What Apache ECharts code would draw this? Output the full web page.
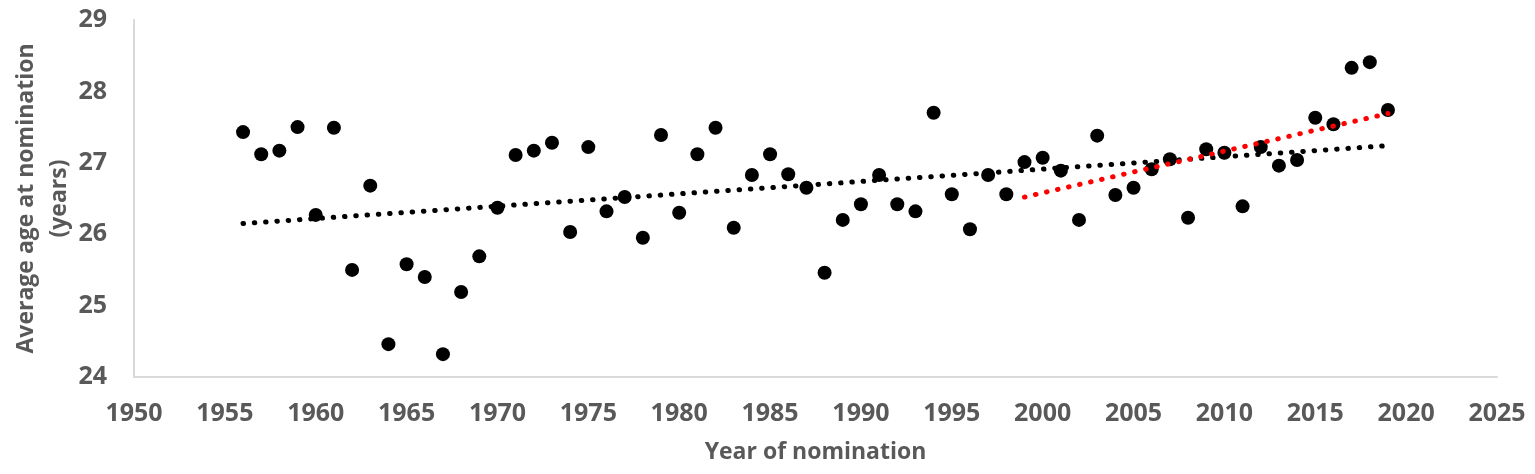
<!DOCTYPE html>
<html>
<head>
<meta charset="utf-8">
<script src="https://cdn.jsdelivr.net/npm/echarts@6/dist/echarts.min.js"></script>
<style>
html,body{margin:0;padding:0;background:#fff;}
#chart{width:1535px;height:474px;}
</style>
</head>
<body>
<div id="chart"></div>
<script>
const years = [1956,1957,1958,1959,1960,1961,1962,1963,1964,1965,1966,1967,1968,1969,1970,1971,1972,1973,1974,1975,1976,1977,1978,1979,1980,1981,1982,1983,1984,1985,1986,1987,1988,1989,1990,1991,1992,1993,1994,1995,1996,1997,1998,1999,2000,2001,2002,2003,2004,2005,2006,2007,2008,2009,2010,2011,2012,2013,2014,2015,2016,2017,2018,2019];
const ages = [27.43,27.12,27.17,27.50,26.27,27.49,25.50,26.68,24.46,25.58,25.40,24.32,25.19,25.69,26.37,27.11,27.17,27.28,26.03,27.22,26.32,26.52,25.95,27.39,26.30,27.12,27.49,26.09,26.83,27.12,26.84,26.65,25.46,26.20,26.42,26.83,26.42,26.32,27.70,26.56,26.07,26.83,26.56,27.01,27.07,26.89,26.20,27.38,26.55,26.65,26.91,27.05,26.23,27.19,27.14,26.39,27.22,26.96,27.04,27.63,27.54,28.33,28.41,27.74];
const overallTrendYears = [1956, 2019];
const overallTrendValues = [26.15, 27.24];
const recentTrendYears = [1999, 2019];
const recentTrendValues = [26.52, 27.69];
const xTicks = [1950,1955,1960,1965,1970,1975,1980,1985,1990,1995,2000,2005,2010,2015,2020,2025];
const yTicks = [24,25,26,27,28,29];

const grey = '#595959';
const fontFam = '"Open Sans", "Liberation Sans", Arial, sans-serif';

const chart = echarts.init(document.getElementById('chart'), null, {renderer:'canvas'});
const pairs = (xs, ys) => xs.map((x,i)=>[x, ys[i]]);
const dotStyle = (color) => ({color: color, width: 5, type: [0.5, 10.8], cap: 'round'});

chart.setOption({
  animation: false,
  backgroundColor: '#fff',
  grid: {left: 134, right: 38, top: 20, bottom: 97, containLabel: false, outerBoundsMode: 'none'},
  xAxis: {
    type: 'value', min: xTicks[0], max: xTicks[xTicks.length-1], interval: 5,
    name: 'Year of nomination', nameLocation: 'middle', nameGap: 64, nameMoveOverlap: false,
    nameTextStyle: {color: grey, fontSize: 23, fontWeight: 'bold', fontFamily: fontFam},
    axisLine: {show: true, lineStyle: {color: '#d9d9d9', width: 2}},
    axisTick: {show: false},
    splitLine: {show: false},
    axisLabel: {color: grey, fontSize: 25, fontWeight: 'bold', fontFamily: fontFam, margin: 24,
      formatter: v => String(v)}
  },
  yAxis: {
    type: 'value', min: yTicks[0], max: yTicks[yTicks.length-1], interval: 1,
    name: 'Average age at nomination\n(years)', nameLocation: 'middle', nameGap: 58, nameRotate: 90,
    nameMoveOverlap: false,
    nameTextStyle: {color: grey, fontSize: 23, fontWeight: 'bold', fontFamily: fontFam, lineHeight: 33},
    axisLine: {show: true, lineStyle: {color: '#d9d9d9', width: 2}},
    axisTick: {show: false},
    splitLine: {show: false},
    axisLabel: {color: grey, fontSize: 25, fontWeight: 'bold', fontFamily: fontFam, margin: 27}
  },
  series: [
    {type: 'scatter', data: pairs(years, ages), symbol: 'circle', symbolSize: 14,
      itemStyle: {color: '#000', opacity: 1}, z: 2},
    {type: 'line', data: pairs(overallTrendYears, overallTrendValues), showSymbol: false,
      lineStyle: dotStyle('#000'), z: 3, silent: true},
    {type: 'line', data: pairs(recentTrendYears, recentTrendValues), showSymbol: false,
      lineStyle: dotStyle('#ff0000'), z: 4, silent: true}
  ]
});
</script>
</body>
</html>
